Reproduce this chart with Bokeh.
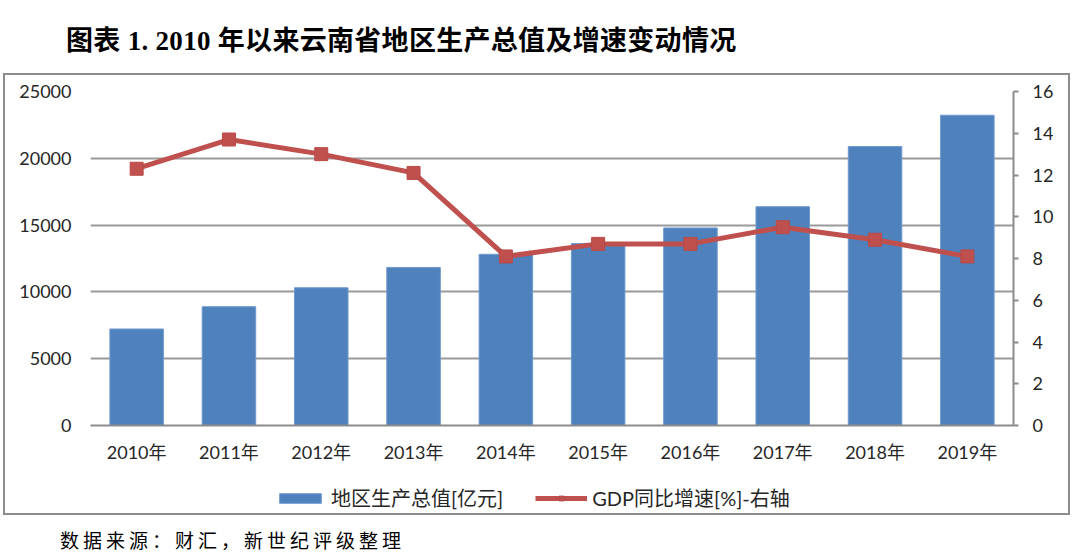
from bokeh.plotting import figure
from bokeh.models import (ColumnDataSource, FactorRange, Range1d, LinearAxis, FixedTicker,
                          Legend, LegendItem, Div)
from bokeh.layouts import column
from bokeh.embed import file_html
from bokeh.resources import INLINE

years = ["2010年", "2011年", "2012年", "2013年", "2014年",
         "2015年", "2016年", "2017年", "2018年", "2019年"]
gdp = [7224, 8893, 10309, 11832, 12815, 13619, 14788, 16376, 20881, 23224]
growth = [12.3, 13.7, 13.0, 12.1, 8.1, 8.7, 8.7, 9.5, 8.9, 8.1]
left_ticks = [0, 5000, 10000, 15000, 20000, 25000]
right_ticks = [0, 2, 4, 6, 8, 10, 12, 14, 16]

title_text = "图表 1. 2010 年以来云南省地区生产总值及增速变动情况"
footer_text = "数据来源：财汇，新世纪评级整理"
bar_label = "地区生产总值[亿元]"
line_label = "GDP同比增速[%]-右轴"

FONT = "Lato, 'Noto Sans CJK SC', sans-serif"
TXT = "#262626"
BAR_FILL, BAR_LINE = "#4f81bd", "#6f9ad0"
LINE_C, MARK_LINE = "#c0504d", "#b84a47"

src = ColumnDataSource(dict(year=years, gdp=gdp, growth=growth))

p = figure(x_range=FactorRange(*years), y_range=Range1d(0, 25000),
           width=1063, height=395, output_backend="svg", toolbar_location=None,
           min_border_left=85, min_border_right=55, min_border_top=16, min_border_bottom=45)
p.outline_line_color = None
p.background_fill_color = "white"
p.border_fill_color = "white"
p.margin = 0

p.extra_y_ranges = {"r": Range1d(0, 16)}

bars = p.vbar(x="year", top="gdp", width=0.58, source=src,
              fill_color=BAR_FILL, line_color=BAR_LINE, line_width=1)
ln = p.line(x="year", y="growth", source=src, y_range_name="r",
            line_color=LINE_C, line_width=5)
sc = p.scatter(x="year", y="growth", source=src, y_range_name="r", marker="square",
               size=13, fill_color=LINE_C, line_color=MARK_LINE, line_width=1)

# left axis
ya = p.yaxis[0]
ya.ticker = FixedTicker(ticks=left_ticks)
ya.axis_line_color = None
ya.major_tick_line_color = None
ya.minor_tick_line_color = None
ya.major_label_standoff = 13
ya.major_label_text_font = FONT
ya.major_label_text_font_size = "18px"
ya.major_label_text_color = TXT

# right axis
ra = LinearAxis(y_range_name="r", ticker=FixedTicker(ticks=right_ticks))
ra.axis_line_color = "#8c8c8c"
ra.axis_line_width = 2
ra.major_tick_line_color = "#8c8c8c"
ra.major_tick_line_width = 2
ra.major_tick_in = 0
ra.major_tick_out = 5
ra.minor_tick_line_color = None
ra.major_label_standoff = 14
ra.major_label_text_font = FONT
ra.major_label_text_font_size = "18px"
ra.major_label_text_color = TXT
p.add_layout(ra, "right")

# x axis
xa = p.xaxis[0]
xa.axis_line_color = "#8c8c8c"
xa.axis_line_width = 2
xa.major_tick_line_color = None
xa.minor_tick_line_color = None
xa.major_label_standoff = 9
xa.major_label_text_font = FONT
xa.major_label_text_font_size = "18px"
xa.major_label_text_color = TXT

p.xgrid.grid_line_color = None
p.ygrid.ticker = FixedTicker(ticks=left_ticks)
p.ygrid.grid_line_color = "#9a9a9a"
p.ygrid.grid_line_width = 2

# legend strip: its own small canvas; the same series are attached but lie entirely
# below its view, so only the legend samples are visible
lg = figure(x_range=FactorRange(*years), y_range=Range1d(60000, 70000),
            width=1063, height=43, output_backend="svg", toolbar_location=None,
            x_axis_type=None, y_axis_type=None,
            min_border_left=0, min_border_right=0, min_border_top=0, min_border_bottom=0)
lg.outline_line_color = None
lg.grid.visible = False
lg.margin = 0
lg_bar = lg.vbar(x="year", top="gdp", width=0.58, source=src,
                 fill_color=BAR_FILL, line_color=BAR_LINE, line_width=1)
lg_ln = lg.line(x="year", y="growth", source=src, line_color=LINE_C, line_width=5)
lg_sc = lg.scatter(x="year", y="growth", source=src, marker="square", size=13,
                   fill_color=LINE_C, line_color=MARK_LINE, line_width=1)
legend = Legend(items=[LegendItem(label=bar_label, renderers=[lg_bar]),
                       LegendItem(label=line_label, renderers=[lg_ln, lg_sc])],
                orientation="horizontal", location=(184, 1),
                border_line_color=None, background_fill_alpha=0,
                glyph_width=52, glyph_height=12, label_standoff=5, spacing=32,
                label_text_font=FONT, label_text_font_size="20px", label_text_color=TXT,
                margin=0, padding=4)
lg.add_layout(legend)

box = column(p, lg, spacing=0, margin=(0, 0, 0, 3),
             styles={"border": "2px solid #8c8c8c"})

title_div = Div(text=f'<div style="padding-top:27px;padding-left:66px;font-family:\'Liberation Serif\',\'Noto Sans CJK SC\',serif;font-weight:bold;font-size:27px;letter-spacing:0.3px;line-height:28px;white-space:nowrap;color:#000;">{title_text}</div>',
                width=1080, height=73, margin=0)
footer_div = Div(text=f'<div style="padding-top:14px;padding-left:60px;font-family:\'Noto Sans CJK SC\',serif;font-size:19px;letter-spacing:4px;line-height:22px;white-space:nowrap;color:#000;">{footer_text}</div>',
                 width=1080, height=44, margin=0)

layout = column(title_div, box, footer_div, spacing=0)
open("out.html", "w").write(file_html(layout, INLINE))
